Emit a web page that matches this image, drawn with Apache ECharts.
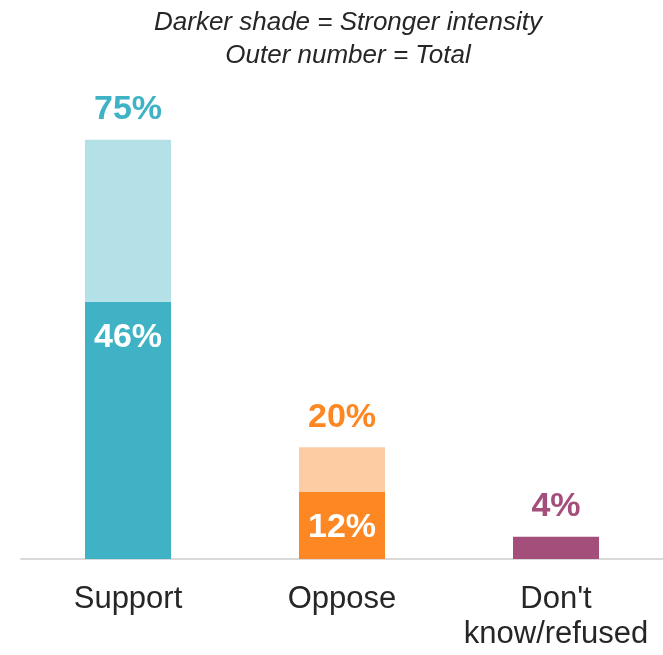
<!DOCTYPE html>
<html>
<head>
<meta charset="utf-8">
<script src="https://cdn.jsdelivr.net/npm/echarts@6/dist/echarts.min.js"></script>
<style>
  html, body { margin: 0; padding: 0; background: #fff; }
  #chart { width: 663px; height: 655px; }
</style>
</head>
<body>
<div id="chart"></div>
<script>
// data
const categories = ['Support', 'Oppose', "Don't\nknow/refused"];
const strongValues = [46, 12, 4];
const totalValues = [75, 20, 4];
const darkColors = ['#3fb3c5', '#fd8722', '#a34e7b'];
const lightColors = ['#b3e1e7', '#fdcca3', '#a34e7b'];

const chart = echarts.init(document.getElementById('chart'));

const font = "'Liberation Sans', Arial, sans-serif";

// dark part = strong intensity; light part = the rest up to the total
const strongData = strongValues.map((v, i) => ({
  value: v,
  itemStyle: { color: darkColors[i] },
  // no inner label when the bar is only the total
  label: { show: v !== totalValues[i] }
}));

const restData = totalValues.map((t, i) => ({
  value: t - strongValues[i],
  itemStyle: { color: lightColors[i] },
  label: { color: darkColors[i] }
}));

chart.setOption({
  animation: false,
  title: {
    text: 'Darker shade = Stronger intensity\nOuter number = Total',
    left: 343,
    top: 1,
    textAlign: 'center',
    textStyle: {
      fontFamily: font,
      fontStyle: 'italic',
      fontWeight: 'normal',
      fontSize: 26,
      lineHeight: 33,
      color: '#262626'
    }
  },
  grid: { left: 21, right: 0, top: 0, bottom: 96 },
  xAxis: {
    type: 'category',
    data: categories,
    axisLine: { lineStyle: { color: '#d9d9d9', width: 2 } },
    axisTick: { show: false },
    axisLabel: {
      interval: 0,
      fontFamily: font,
      fontSize: 31,
      lineHeight: 35,
      color: '#262626',
      margin: 23
    }
  },
  yAxis: {
    type: 'value',
    min: 0,
    max: 100,
    show: false,
    splitLine: { show: false }
  },
  series: [
    {
      name: 'Strong',
      type: 'bar',
      stack: 'total',
      barWidth: 86,
      data: strongData,
      label: {
        position: 'insideTop',
        distance: 19,
        formatter: '{c}%',
        color: '#fff',
        fontFamily: font,
        fontWeight: 'bold',
        fontSize: 34
      }
    },
    {
      name: 'Total',
      type: 'bar',
      stack: 'total',
      barWidth: 86,
      data: restData,
      label: {
        show: true,
        position: 'top',
        distance: 13,
        formatter: (p) => totalValues[p.dataIndex] + '%',
        fontFamily: font,
        fontWeight: 'bold',
        fontSize: 34
      }
    }
  ]
});

window.addEventListener('resize', () => chart.resize());
</script>
</body>
</html>
